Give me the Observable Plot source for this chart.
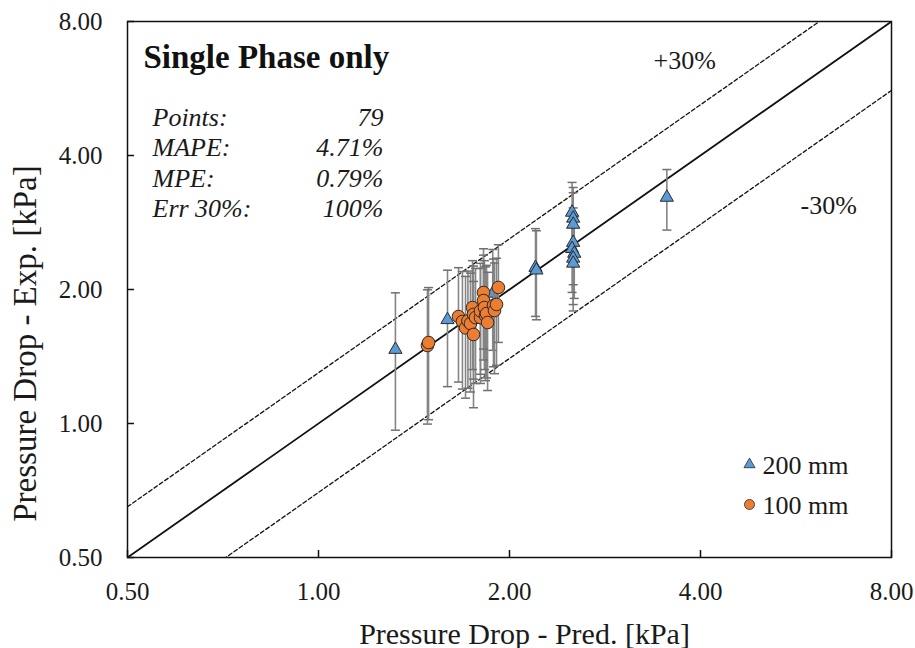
<!DOCTYPE html>
<html>
<head>
<meta charset="utf-8">
<script src="https://cdn.jsdelivr.net/npm/d3@7"></script>
<script src="https://cdn.jsdelivr.net/npm/@observablehq/plot@0.6"></script>
<style>
  body { margin: 0; background: #fff; }
  #chart { width: 915px; height: 648px; }
</style>
</head>
<body>
<div id="chart"></div>
<script>
// ---- data ----
const seriesNames = ["200 mm", "100 mm"];

const bluePred = [1.322, 1.597, 1.882, 2.198, 2.205, 2.51, 2.52, 2.52, 2.52, 2.51, 2.53, 2.52, 2.52, 3.54];
const blueExp  = [1.466, 1.71, 1.96, 2.24, 2.21, 2.98, 2.89, 2.80, 2.55, 2.47, 2.41, 2.35, 2.29, 3.22];
const blueErr  = [0.5, 0.5, 0.5, 0.5, 0.5, 0.5, 0.5, 0.5, 0.5, 0.5, 0.5, 0.5, 0.5, 0.5];

const orangePred = [1.485, 1.491, 1.662, 1.686, 1.705, 1.72, 1.736, 1.749, 1.755, 1.755, 1.768, 1.80, 1.80, 1.82, 1.82, 1.826, 1.833, 1.840, 1.847, 1.887, 1.894, 1.908, 1.921];
const orangeExp  = [1.497, 1.520, 1.739, 1.695, 1.640, 1.70, 1.677, 1.822, 1.758, 1.585, 1.730, 1.730, 1.79, 1.969, 1.889, 1.822, 1.748, 1.766, 1.686, 1.841, 1.794, 1.851, 2.021];
const orangeErr  = [0.5, 0.5, 0.5, 0.5, 0.5, 0.5, 0.5, 0.5, 0.5, 0.5, 0.5, 0.5, 0.5, 0.5, 0.5, 0.5, 0.5, 0.5, 0.5, 0.5, 0.5, 0.5, 0.5];

const axisTicks = [0.5, 1, 2, 4, 8];
const refLineX = [0.5, 8];
const refFactors = [1, 1.3, 0.7];
const bandLabels = ["+30%", "-30%"];

const titleText = "Single Phase only";
const statLabels = ["Points:", "MAPE:", "MPE:", "Err 30%:"];
const statValues = ["79", "4.71%", "0.79%", "100%"];
const xTitle = "Pressure Drop - Pred. [kPa]";
const yTitle = "Pressure Drop - Exp. [kPa]";

// ---- build tables ----
const blueRows = bluePred.map((p, i) => ({pred: p, exp: blueExp[i], err: blueErr[i]}));
const orangeRows = orangePred.map((p, i) => ({pred: p, exp: orangeExp[i], err: orangeErr[i]}));
const refRows = refFactors.map(f => refLineX.map(x => ({x, y: x * f, f})));

const BLUE = "#5b9bd5", ORANGE = "#ed7d31", MARK_STROKE = "#2a2a2a";
const TEXT = "#1a1a1a";
const FONT = "'Liberation Serif', 'Times New Roman', serif";

const capSymbol = {
  draw(ctx, size) {
    const w = Math.sqrt(size / Math.PI);
    ctx.moveTo(-w, 0);
    ctx.lineTo(w, 0);
  }
};

function errorMarks(rows) {
  return [
    Plot.ruleX(rows, {x: "pred", y1: d => d.exp - d.err, y2: d => d.exp + d.err, stroke: "#858585", strokeWidth: 1.6}),
    Plot.dot(rows, {x: "pred", y: d => d.exp + d.err, symbol: capSymbol, r: 4.5, fill: "none", stroke: "#707070", strokeWidth: 1.5}),
    Plot.dot(rows, {x: "pred", y: d => d.exp - d.err, symbol: capSymbol, r: 4.5, fill: "none", stroke: "#707070", strokeWidth: 1.5})
  ];
}

const chart = Plot.plot({
  width: 915,
  height: 648,
  marginLeft: 127,
  marginRight: 24,
  marginTop: 21,
  marginBottom: 91,
  style: {fontFamily: FONT, background: "#fff", color: TEXT},
  x: {type: "log", base: 2, domain: [0.5, 8]},
  y: {type: "log", base: 2, domain: [0.5, 8]},
  marks: [
    // reference lines
    Plot.line(refRows[0], {x: "x", y: "y", stroke: "#111", strokeWidth: 1.8, clip: true}),
    Plot.line(refRows[1], {x: "x", y: "y", stroke: "#111", strokeWidth: 1.3, strokeDasharray: "4,2.5", clip: true}),
    Plot.line(refRows[2], {x: "x", y: "y", stroke: "#111", strokeWidth: 1.3, strokeDasharray: "4,2.5", clip: true}),
    // 200 mm series
    ...errorMarks(blueRows),
    Plot.dot(blueRows, {x: "pred", y: "exp", symbol: "triangle", r: 4.9, fill: BLUE, stroke: MARK_STROKE, strokeWidth: 1}),
    // 100 mm series
    ...errorMarks(orangeRows),
    Plot.dot(orangeRows, {x: "pred", y: "exp", r: 6.3, fill: ORANGE, stroke: MARK_STROKE, strokeWidth: 1}),
    // frame
    Plot.frame({stroke: "#111", strokeWidth: 1.5}),
    // inward ticks
    Plot.axisX(axisTicks, {anchor: "bottom", tickSize: 7, dy: -7, strokeWidth: 1.5, stroke: "#111", fill: "none", tickFormat: () => "", label: null}),
    Plot.axisY(axisTicks, {anchor: "left", tickSize: 7, dx: 7, strokeWidth: 1.5, stroke: "#111", fill: "none", tickFormat: () => "", label: null}),
    // tick labels
    Plot.axisX(axisTicks, {anchor: "bottom", tickSize: 0, tickPadding: 25, tickFormat: d => d.toFixed(2), fontSize: 25, fill: TEXT, label: null}),
    Plot.axisY(axisTicks, {anchor: "left", tickSize: 0, tickPadding: 25, tickFormat: d => d.toFixed(2), fontSize: 25, fill: TEXT, label: null}),
    // axis titles
    Plot.text([xTitle], {text: d => d, frameAnchor: "bottom", dx: 15, dy: 86, lineAnchor: "bottom", textAnchor: "middle", fontSize: 30, fill: TEXT}),
    Plot.text([yTitle], {text: d => d, frameAnchor: "left", rotate: -90, dx: -102, dy: 54, textAnchor: "middle", lineAnchor: "middle", fontSize: 33, fill: TEXT}),
    // title and stats
    Plot.text([titleText], {text: d => d, frameAnchor: "top-left", dx: 16, dy: 46, lineAnchor: "bottom", textAnchor: "start", fontSize: 33, fontWeight: "bold", fill: "#111"}),
    Plot.text([statLabels.join("\n")], {text: d => d, frameAnchor: "top-left", dx: 25, dy: 82.5, lineAnchor: "top", lineHeight: 1.173, textAnchor: "start", fontSize: 26, fontStyle: "italic", fill: TEXT}),
    Plot.text([statValues.join("\n")], {text: d => d, frameAnchor: "top-left", dx: 256, dy: 82.5, lineAnchor: "top", lineHeight: 1.173, textAnchor: "end", fontSize: 26, fontStyle: "italic", fill: TEXT}),
    // band labels
    Plot.text([bandLabels[0]], {text: d => d, frameAnchor: "top-left", dx: 526, dy: 47, lineAnchor: "bottom", textAnchor: "start", fontSize: 26, fill: TEXT}),
    Plot.text([bandLabels[1]], {text: d => d, frameAnchor: "top-left", dx: 673, dy: 192, lineAnchor: "bottom", textAnchor: "start", fontSize: 26, fill: TEXT}),
    // legend
    Plot.dot([seriesNames[0]], {frameAnchor: "top-left", dx: 622, dy: 443, symbol: "triangle", r: 4.1, fill: BLUE, stroke: MARK_STROKE, strokeWidth: 0.8}),
    Plot.dot([seriesNames[1]], {frameAnchor: "top-left", dx: 622, dy: 483, r: 5, fill: ORANGE, stroke: MARK_STROKE, strokeWidth: 0.8}),
    Plot.text([seriesNames[0]], {text: d => d, frameAnchor: "top-left", dx: 635, dy: 452, lineAnchor: "bottom", textAnchor: "start", fontSize: 26, fill: TEXT}),
    Plot.text([seriesNames[1]], {text: d => d, frameAnchor: "top-left", dx: 635, dy: 492, lineAnchor: "bottom", textAnchor: "start", fontSize: 26, fill: TEXT})
  ]
});

document.getElementById("chart").appendChild(chart);
</script>
</body>
</html>
